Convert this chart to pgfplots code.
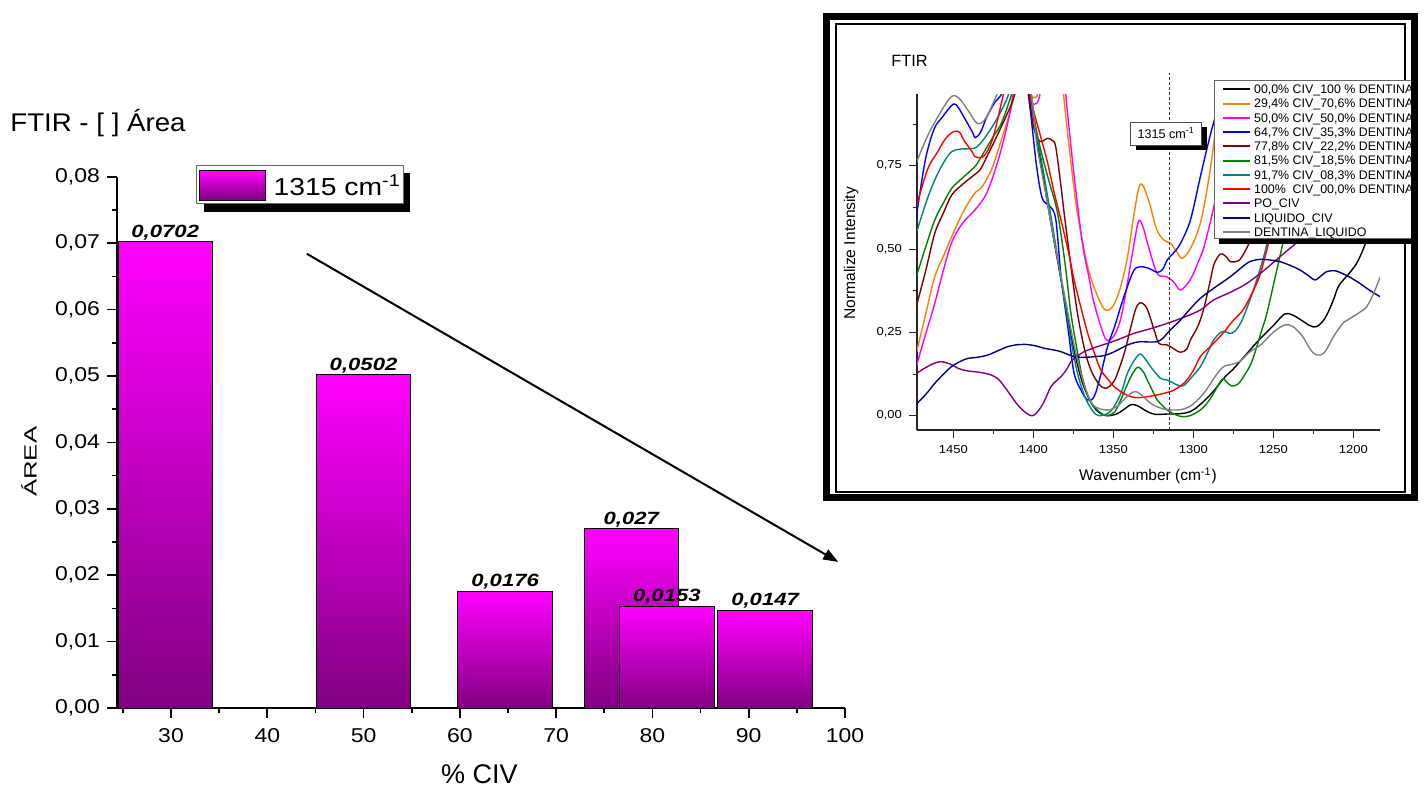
\documentclass[border=0pt]{standalone}
\usepackage{graphicx}
\usepackage{pgfplots}
\pgfplotsset{compat=1.18}
\usepackage{fontspec}
\setmainfont{Liberation Sans}
\newfontfamily\wideA{Liberation Sans}[FakeStretch=1.15]
\newfontfamily\wideB{Liberation Sans}[FakeStretch=1.25]
\newfontfamily\wideC{Liberation Sans}[FakeStretch=1.08]
\newfontfamily\wideD{Liberation Sans}[FakeStretch=1.12]
\usetikzlibrary{arrows.meta}

\newcommand\fs[1]{\fontsize{#1}{#1}\selectfont}

\definecolor{bartop}{HTML}{FF00FF}
\definecolor{barbot}{HTML}{800080}
\definecolor{cBlack}{HTML}{000000}
\definecolor{cOrange}{HTML}{FF8000}
\definecolor{cMagenta}{HTML}{FF00FF}
\definecolor{cBlue}{HTML}{0000FF}
\definecolor{cWine}{HTML}{800000}
\definecolor{cGreen}{HTML}{008000}
\definecolor{cTeal}{HTML}{008080}
\definecolor{cRed}{HTML}{FF0000}
\definecolor{cPurple}{HTML}{800080}
\definecolor{cNavy}{HTML}{000080}
\definecolor{cGray}{HTML}{808080}

\pgfplotsset{
  areabar/.style={ybar, bar shift=0pt, bar width=9.8, draw=black, line width=0.5pt,
    top color=bartop, bottom color=barbot},
}

% one legend row of the spectra panel: colour, row number, text
\newcommand\specentry[3]{%
  \draw[color=#1, line width=1pt] (611.5pt,{-(44.65+7.135*#2)*1pt}) -- (625pt,{-(44.65+7.135*#2)*1pt});
  \node[anchor=base west, inner sep=0pt, font=\fs{6.2}] at (626.85pt,{-(46.8+7.135*#2)*1pt}) {#3};
}

\begin{document}
\begin{tikzpicture}

% ---------------- area of the 1315 cm-1 band versus CIV content ----------------
\begin{axis}[
  at={(58.5pt,-354pt)}, anchor=south west, scale only axis,
  width=364pt, height=265.65pt,
  xmin=24.39, xmax=100, ymin=0, ymax=0.08,
  axis x line*=bottom, axis y line*=left,
  axis line style={line width=1pt},
  xtick={30,40,50,60,70,80,90,100},
  minor xtick={25,35,45,55,65,75,85,95},
  ytick={0,0.01,0.02,0.03,0.04,0.05,0.06,0.07,0.08},
  minor ytick={0.005,0.015,0.025,0.035,0.045,0.055,0.065,0.075},
  tick align=outside, major tick length=5pt, minor tick length=2.5pt,
  tick style={black, line width=0.8pt},
  scaled ticks=false,
  /pgf/number format/assume math mode=true,
  tick label style={font=\wideA\fs{10}},
  xticklabel style={yshift=-1.5pt},
  yticklabel style={/pgf/number format/.cd, fixed, fixed zerofill, precision=2, use comma},
  nodes near coords={\pgfmathprintnumber[fixed,precision=4,use comma]{\pgfplotspointmeta}},
  every node near coord/.append style={font=\wideB\bfseries\itshape\fs{8.85}, anchor=base, yshift=2.3pt, inner sep=0pt, black},
]
% one plot per bar, so that every bar carries its own gradient
\addplot[areabar] coordinates {(29.4,0.0702)};
\addplot[areabar] coordinates {(50,0.0502)};
\addplot[areabar] coordinates {(64.7,0.0176)};
\addplot[areabar] coordinates {(77.8,0.027)};
\addplot[areabar] coordinates {(81.5,0.0153)};
\addplot[areabar] coordinates {(91.7,0.0147)};
\draw[line width=1pt, -{Triangle[length=7.5pt,width=5.5pt]}] (axis cs:44.1,0.0684) -- (axis cs:99.3,0.0220);
\end{axis}

% legend of the bar chart
\fill[black] (101.85pt,-86.7pt) rectangle (205pt,-105.85pt);
\draw[draw=black!60, line width=0.5pt, fill=white] (98.35pt,-82.5pt) rectangle (201.5pt,-101.65pt);
\draw[draw=black, line width=0.5pt, top color=bartop, bottom color=barbot] (99.65pt,-85.35pt) rectangle (132.5pt,-100pt);
\node[anchor=base west, inner sep=0pt, font=\wideA\fs{12.3}] at (136.65pt,-97.5pt) {1315 cm\textsuperscript{-1}};

\node[anchor=base west, inner sep=0pt, font=\wideC\fs{12.8}] at (5pt,-65.85pt) {FTIR - [ ] Área};
\node[rotate=90, anchor=base, inner sep=0pt, font=\fs{12.85}] at (18.35pt,-230.85pt) {\scalebox{1}[0.69]{ÁREA}};
\node[anchor=base, inner sep=0pt, font=\fs{13.5}] at (239.75pt,-391.6pt) {\% CIV};

% ---------------- FTIR spectra panel ----------------
\draw[line width=1pt] (417.75pt,-12pt) rectangle (702.5pt,-245.75pt);

\begin{scope}
\clip (413pt,-8pt) rectangle (706pt,-248.5pt);
\begin{axis}[
  at={(458.5pt,-215pt)}, anchor=south west, scale only axis,
  width=231.5pt, height=168pt,
  xmin=1183.3, xmax=1472.7, x dir=reverse, ymin=-0.043, ymax=0.965,
  axis x line*=bottom, axis y line*=left,
  axis line style={line width=0.6pt, black!85},
  xtick={1200,1250,1300,1350,1400,1450},
  minor xtick={1225,1275,1325,1375,1425},
  ytick={0,0.25,0.5,0.75}, minor ytick={0.125,0.375,0.625,0.875},
  tick align=outside, major tick length=4pt, minor tick length=2pt,
  tick style={black!85, line width=0.5pt},
  scaled ticks=false,
  /pgf/number format/assume math mode=true,
  tick label style={font=\wideD\fs{5.8}},
  xticklabel style={/pgf/number format/1000 sep={}},
  yticklabel style={/pgf/number format/.cd, fixed, fixed zerofill, precision=2, use comma},
  every axis plot/.append style={line width=0.7pt, smooth, tension=0.55},
]
% 00,0% CIV / 100% dentine
\addplot[cBlack] coordinates {
(1473,1.2) (1440,1.2) (1412,1.3) (1405,1.1) (1400,0.9) (1394,0.72) (1388,0.55) (1382,0.39)
(1376,0.23) (1370,0.11) (1364,0.04) (1359,0.01) (1354,0.0) (1348,0.005) (1343,0.02) (1339,0.033)
(1335,0.03) (1329,0.013) (1324,0.004) (1316,0.005) (1308,0.006) (1302,0.012) (1296,0.032)
(1288,0.07) (1281,0.112) (1275,0.14) (1270,0.167) (1264,0.2) (1258,0.232) (1250,0.27)
(1243,0.305) (1238,0.302) (1232,0.285) (1227,0.27) (1223,0.267) (1218,0.29) (1213,0.34)
(1209,0.39) (1202,0.43) (1197,0.465) (1191.6,0.527) (1187,0.6) (1183.3,0.66)};
% 29,4% CIV
\addplot[cOrange] coordinates {
(1473,0.19) (1467,0.31) (1461.6,0.417) (1456,0.48) (1451,0.537) (1444,0.61) (1437,0.665)
(1432,0.687) (1426,0.74) (1420,0.827) (1414,0.92) (1409,1.02) (1405,1.02) (1401,0.96)
(1399.5,0.955) (1397,0.97) (1393,1.1) (1386,1.3) (1383,1.1) (1381,0.96) (1377,0.78)
(1372.4,0.607) (1366,0.447) (1360,0.36) (1355,0.317) (1350,0.33) (1345.4,0.387) (1341,0.48)
(1337,0.607) (1333,0.695) (1328,0.647) (1323,0.56) (1318.4,0.527) (1314.3,0.517) (1310,0.49)
(1307,0.472) (1302,0.5) (1295.6,0.577) (1290,0.72) (1285,0.9) (1280,1.1)};
% 50,0% CIV
\addplot[cMagenta] coordinates {
(1473,0.15) (1467,0.25) (1462,0.33) (1456,0.44) (1451,0.52) (1446,0.565) (1442,0.59)
(1436,0.62) (1430,0.66) (1425,0.72) (1420,0.8) (1415,0.9) (1411,1.0) (1406,1.03) (1402,0.95)
(1399.2,0.934) (1396,0.96) (1392,1.1) (1386,1.3) (1382,1.1) (1379.6,0.957) (1374.5,0.72)
(1369.3,0.517) (1365,0.41) (1362,0.337) (1355,0.232) (1350,0.237) (1346,0.28) (1343,0.347)
(1337,0.517) (1334,0.585) (1331,0.56) (1328.6,0.517) (1322.6,0.427) (1316.6,0.417) (1312,0.4)
(1308,0.377) (1302,0.407) (1297,0.46) (1292.7,0.517) (1285.5,0.667) (1280,0.85) (1275,1.05)};
% 64,7% CIV
\addplot[cBlue] coordinates {
(1473,0.6) (1467.5,0.767) (1462,0.86) (1457,0.895) (1450,0.935) (1447,0.925) (1443.5,0.897)
(1438,0.85) (1436.4,0.834) (1433,0.85) (1429,0.897) (1424,0.94) (1419.6,0.967) (1412,1.05)
(1406,1.05) (1402,0.92) (1398,0.75) (1394.4,0.652) (1390,0.63) (1386,0.59) (1382.7,0.42)
(1378,0.25) (1374.5,0.127) (1370,0.075) (1366,0.047) (1362,0.057) (1358,0.12) (1353.6,0.207)
(1349,0.27) (1345.4,0.327) (1341,0.39) (1337,0.437) (1333,0.447) (1327.8,0.442) (1322.5,0.43)
(1319,0.44) (1316.3,0.467) (1312,0.49) (1308,0.517) (1301.8,0.587) (1295.6,0.717) (1290,0.83)
(1285,0.92) (1280,1.02)};
% 77,8% CIV
\addplot[cWine] coordinates {
(1473,0.33) (1467,0.44) (1461.6,0.547) (1456,0.61) (1451,0.662) (1444,0.695) (1437,0.722)
(1433,0.74) (1428,0.787) (1420,0.867) (1412,0.957) (1408,1.05) (1404,1.02) (1401,0.9)
(1399.4,0.857) (1397,0.83) (1395,0.822) (1391,0.832) (1388,0.825) (1386,0.807) (1383,0.7)
(1380.7,0.607) (1376,0.43) (1372.4,0.307) (1368,0.2) (1364,0.137) (1359,0.095) (1354.7,0.082)
(1350,0.1) (1347.4,0.127) (1343,0.19) (1339,0.267) (1336,0.32) (1333.3,0.339) (1330,0.33)
(1327.8,0.307) (1324,0.25) (1321.5,0.217) (1316.3,0.212) (1312,0.2) (1308,0.19) (1304,0.2)
(1301.8,0.227) (1297,0.27) (1293.5,0.32) (1289.3,0.407) (1287,0.455) (1283,0.485) (1279,0.475)
(1276.9,0.462) (1271.7,0.465) (1268,0.49) (1264.4,0.527) (1260,0.6) (1255,0.7)};
% 81,5% CIV
\addplot[cGreen] coordinates {
(1473,0.42) (1467,0.51) (1461.6,0.587) (1456,0.64) (1451,0.682) (1445,0.71) (1441,0.727)
(1436,0.75) (1432.5,0.777) (1426,0.83) (1420,0.877) (1414,0.957) (1408,1.05) (1403,1.0)
(1399,0.88) (1395,0.79) (1390,0.7) (1384.8,0.607) (1380,0.45) (1376.5,0.307) (1372,0.18)
(1369,0.107) (1365,0.05) (1362,0.027) (1357,0.005) (1353.6,0.0) (1349,0.012) (1345.4,0.047)
(1342,0.085) (1339,0.117) (1336,0.14) (1334,0.145) (1331,0.13) (1328.8,0.107) (1325,0.07)
(1322.5,0.047) (1316.3,0.017) (1311,0.003) (1307,-0.003) (1302,0.0) (1295.6,0.017) (1291,0.04)
(1287.3,0.067) (1282,0.109) (1279,0.1) (1276,0.089) (1272,0.095) (1268.6,0.117) (1264,0.155)
(1260.3,0.207) (1257,0.26) (1254,0.307) (1247.8,0.437) (1241.6,0.567) (1237,0.66)};
% 91,7% CIV
\addplot[cTeal] coordinates {
(1473,0.55) (1467,0.64) (1461.6,0.707) (1456,0.76) (1451,0.792) (1445,0.8) (1437,0.802)
(1433,0.817) (1428,0.85) (1422,0.897) (1416,0.957) (1410,1.05) (1404,1.02) (1400,0.9)
(1394,0.74) (1388,0.57) (1383,0.42) (1378,0.27) (1373,0.14) (1368,0.06) (1363,0.015)
(1359,0.0) (1353,0.008) (1349.5,0.027) (1345,0.07) (1341.2,0.127) (1337,0.165) (1333.3,0.185)
(1330,0.17) (1326.7,0.147) (1320.5,0.112) (1316.3,0.107) (1310,0.092) (1306,0.09) (1302,0.11)
(1295.6,0.147) (1290,0.2) (1287.3,0.227) (1282,0.252) (1276,0.247) (1272,0.265) (1268.6,0.297)
(1262.4,0.377) (1256,0.477) (1252,0.557) (1248,0.65)};
% 100% CIV
\addplot[cRed] coordinates {
(1473,0.63) (1466,0.74) (1460,0.79) (1455,0.83) (1450,0.852) (1446,0.85) (1443.5,0.827)
(1438,0.79) (1436.4,0.777) (1432,0.775) (1428,0.8) (1424.4,0.847) (1419,0.957) (1414,1.05)
(1408,1.08) (1403,0.98) (1399.4,0.907) (1395,0.83) (1391,0.757) (1387,0.67) (1382.7,0.587)
(1378,0.49) (1374.5,0.407) (1370,0.32) (1366,0.247) (1362,0.19) (1357.8,0.137) (1353,0.107)
(1349.5,0.087) (1344,0.068) (1339,0.057) (1334,0.054) (1328.8,0.057) (1323,0.062) (1318.4,0.067)
(1312,0.077) (1306,0.097) (1302,0.12) (1299.8,0.137) (1295.6,0.177) (1291,0.2) (1287.3,0.217)
(1281,0.25) (1274.8,0.287) (1270,0.31) (1266.5,0.337) (1262,0.38) (1258,0.427) (1252,0.537)
(1247,0.65)};
% CIV powder
\addplot[cPurple] coordinates {
(1473,0.127) (1467,0.145) (1462,0.157) (1457.5,0.162) (1452,0.155) (1447,0.142) (1442,0.135)
(1436.7,0.132) (1431,0.128) (1426.3,0.122) (1422,0.11) (1418,0.087) (1414,0.06) (1409.7,0.032)
(1405,0.01) (1400.4,0.0) (1396,0.02) (1393,0.045) (1389,0.087) (1385.5,0.105) (1382.7,0.117)
(1379,0.14) (1376.5,0.162) (1372,0.18) (1368.2,0.192) (1360,0.207) (1353.6,0.217) (1345,0.232)
(1337,0.247) (1326,0.262) (1316.3,0.277) (1306,0.295) (1295.6,0.317) (1287.3,0.347) (1276,0.372)
(1266.5,0.397) (1256,0.435) (1245.8,0.477) (1233.3,0.527) (1225,0.56) (1215,0.6)};
% CIV liquid
\addplot[cNavy] coordinates {
(1473,0.035) (1467,0.065) (1461.6,0.097) (1456,0.125) (1451.2,0.147) (1446,0.162) (1440.8,0.172)
(1435,0.175) (1428.4,0.182) (1422,0.195) (1416,0.207) (1410,0.213) (1405.6,0.214) (1399,0.21)
(1393,0.202) (1387,0.197) (1382.7,0.192) (1378,0.183) (1374.5,0.177) (1368,0.175) (1362,0.177)
(1356,0.18) (1351.6,0.187) (1346,0.2) (1341.2,0.212) (1336,0.22) (1333,0.222) (1327,0.221)
(1322.5,0.222) (1319,0.232) (1316.3,0.247) (1312,0.268) (1308,0.287) (1302,0.32) (1295.6,0.352)
(1287.3,0.382) (1276.9,0.417) (1266.5,0.457) (1262,0.466) (1258,0.469) (1252,0.467) (1245.8,0.462)
(1239,0.45) (1233.3,0.437) (1228,0.42) (1224,0.407) (1220,0.42) (1216.7,0.432) (1212,0.435)
(1208.4,0.43) (1202,0.415) (1196,0.397) (1190,0.377) (1183.3,0.357)};
% dentine + liquid
\addplot[cGray] coordinates {
(1473,0.76) (1466,0.84) (1458,0.91) (1451,0.958) (1446,0.95) (1440,0.91) (1435,0.877)
(1430,0.89) (1424,0.95) (1418,1.02) (1410,1.15) (1404,1.05) (1400,0.92) (1398,0.82)
(1392,0.66) (1386,0.5) (1380,0.35) (1374,0.2) (1368,0.09) (1363,0.035) (1358,0.02)
(1352,0.018) (1347,0.03) (1342,0.055) (1338,0.07) (1335,0.071) (1332,0.06) (1326,0.035)
(1320,0.022) (1313,0.017) (1306,0.02) (1300,0.035) (1293,0.07) (1286,0.12) (1281,0.147)
(1275,0.155) (1271,0.162) (1265,0.19) (1258,0.212) (1250,0.25) (1243,0.272) (1238,0.268)
(1232,0.24) (1227,0.2) (1223,0.182) (1218,0.19) (1212,0.24) (1206,0.28) (1202,0.292)
(1196,0.31) (1191.6,0.327) (1187,0.37) (1183.3,0.415)};
\coordinate (bandfoot) at (axis cs:1315,-0.043);
\end{axis}

% legend of the spectra (cut by the frame on the right)
\fill[black] (609.5pt,-43pt) rectangle (715pt,-122.15pt);
\draw[draw=black!60, line width=0.4pt, fill=white] (607pt,-40pt) rectangle (712pt,-119.15pt);
\specentry{cBlack}{0}{00,0\% CIV\_100 \% DENTINA}
\specentry{cOrange}{1}{29,4\% CIV\_70,6\% DENTINA}
\specentry{cMagenta}{2}{50,0\% CIV\_50,0\% DENTINA}
\specentry{cBlue}{3}{64,7\% CIV\_35,3\% DENTINA}
\specentry{cWine}{4}{77,8\% CIV\_22,2\% DENTINA}
\specentry{cGreen}{5}{81,5\% CIV\_18,5\% DENTINA}
\specentry{cTeal}{6}{91,7\% CIV\_08,3\% DENTINA}
\specentry{cRed}{7}{100\%\ \ CIV\_00,0\% DENTINA}
\specentry{cPurple}{8}{PO\_CIV}
\specentry{cNavy}{9}{LIQUIDO\_CIV}
\specentry{cGray}{10}{DENTINA\_LIQUIDO}
\end{scope}

% marker of the 1315 cm-1 band
\draw[black!80, line width=0.5pt, dash pattern=on 1.5pt off 1pt] (bandfoot) -- (bandfoot |- 0,-36.5pt);
\fill[black] (568.2pt,-63.5pt) rectangle (603.5pt,-75pt);
\node[draw=black!70, line width=0.5pt, fill=white, minimum width=35.25pt, minimum height=11.5pt, inner sep=0pt,
  font=\fs{6.3}] at (583.1pt,-66.75pt) {1315 cm\textsuperscript{-1}};

\node[anchor=base west, inner sep=0pt, font=\fs{8.15}] at (445.5pt,-33.35pt) {FTIR};
\node[rotate=90, anchor=base, inner sep=0pt, font=\fs{7.8}] at (427.5pt,-126.6pt) {Normalize Intensity};
\node[anchor=base, inner sep=0pt, font=\fs{7.75}] at (574pt,-240.35pt) {Wavenumber (cm\textsuperscript{-1})};

\draw[line width=3.5pt] (413pt,-8pt) rectangle (707pt,-248.5pt);

\pgfresetboundingbox
\useasboundingbox (0pt,0pt) rectangle (712pt,-393.5pt);
\end{tikzpicture}
\end{document}
